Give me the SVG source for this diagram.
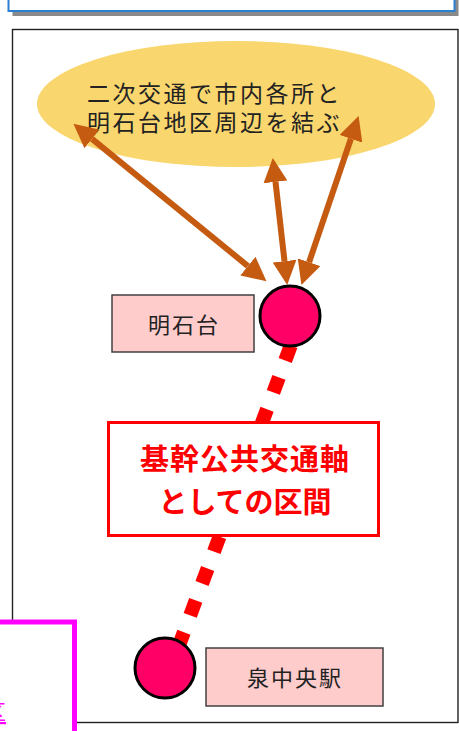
<svg xmlns="http://www.w3.org/2000/svg" width="459" height="731" viewBox="0 0 459 731">
<style>
text{font-family:"Noto Sans CJK JP","Noto Sans",sans-serif}
.lbl{font-size:22px;fill:#222;letter-spacing:2px;text-anchor:middle}
.st{fill:#FF0066;stroke:#000;stroke-width:3}
.lb{fill:#FFCCCC;stroke:#404040;stroke-width:1.5}
.arr{stroke:#C55A11;stroke-width:6;fill:none;marker-start:url(#ah);marker-end:url(#ah)}
.cap{font-size:23px;fill:#222;letter-spacing:2.5px}
</style>
<defs>
<marker id="ah" markerUnits="userSpaceOnUse" markerWidth="24" markerHeight="24" viewBox="0 0 22 22" refX="0" refY="11" orient="auto-start-reverse"><path d="M0,0 L22,11 L0,22 z" fill="#C55A11"/></marker>
</defs>
<rect width="459" height="731" fill="#fff"/>
<g id="header">
<rect x="12.5" y="-6" width="446" height="22" fill="#8a8a8a"/>
<rect x="8.5" y="-10" width="446" height="21" fill="#fff" stroke="#2B7FD0" stroke-width="2"/>
</g>
<rect id="frame" x="12.5" y="29.5" width="445.5" height="693" fill="none" stroke="#222" stroke-width="1.4"/>
<g id="area">
<ellipse cx="236" cy="104" rx="199" ry="63" fill="#FAD66E"/>
<text class="cap"><tspan x="87" y="102">二次交通で市内各所と</tspan><tspan x="87" y="131">明石台地区周辺を結ぶ</tspan></text>
</g>
<g id="connectors">
<path class="arr" d="M92,138.9 L247.9,266.1"/>
<path class="arr" d="M275.5,181.9 L284.5,261.1"/>
<path class="arr" d="M350.9,138.8 L309.1,262.2"/>
<path d="M290.8,345.5 L178.2,647.5" stroke="#FF0000" stroke-width="14" stroke-dasharray="16 18" fill="none"/>
</g>
<g id="akashidai">
<rect class="lb" x="112" y="295" width="142" height="57"/>
<text class="lbl" x="184" y="333">明石台</text>
<circle class="st" cx="290" cy="316" r="30"/>
</g>
<g id="section">
<rect x="108.5" y="422.5" width="270" height="113" fill="#fff" stroke="#FF0000" stroke-width="3"/>
<text x="245" y="470" font-size="29" font-weight="bold" fill="#FF0000" text-anchor="middle" letter-spacing="1">基幹公共交通軸</text>
<text x="245" y="513" font-size="29" font-weight="bold" fill="#FF0000" text-anchor="middle" letter-spacing="0">としての区間</text>
</g>
<g id="izumi">
<rect class="lb" x="206" y="648" width="177" height="58"/>
<text class="lbl" x="295" y="686" font-size="23">泉中央駅</text>
<circle class="st" cx="165" cy="668" r="30"/>
</g>
<g id="note">
<rect x="-10" y="622" width="84.5" height="120" fill="#fff" stroke="#FF00FF" stroke-width="5"/>
<text x="-16" y="720" font-size="22" fill="#FF00FF" text-decoration="underline">区</text>
</g>
</svg>
